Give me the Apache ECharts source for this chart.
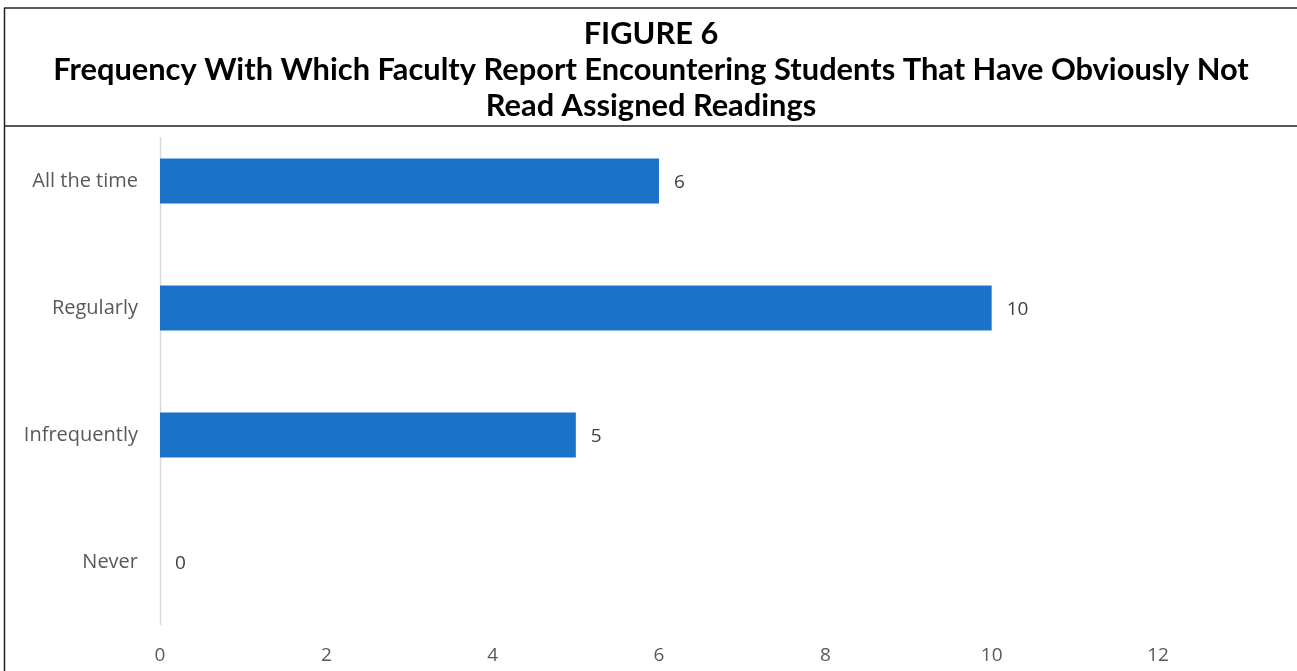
<!DOCTYPE html>
<html>
<head>
<meta charset="utf-8">
<script src="https://cdn.jsdelivr.net/npm/echarts@6/dist/echarts.min.js"></script>
<style>
  html, body { margin: 0; padding: 0; background: #fff; }
  #chart { width: 1297px; height: 671px; }
</style>
</head>
<body>
<div id="chart"></div>
<script>
// data
var categories = ['All the time', 'Regularly', 'Infrequently', 'Never'];
var counts = [6, 10, 5, 0];
var figureLabel = 'FIGURE 6';
var titleLines = [
  'Frequency With Which Faculty Report Encountering Students That Have Obviously Not',
  'Read Assigned Readings'
];

var chart = echarts.init(document.getElementById('chart'));

var titleFont = { fontFamily: 'Lato', fontWeight: 'bold', fontSize: 30.8, fill: '#000', textAlign: 'center', textVerticalAlign: 'middle' };

var option = {
  animation: false,
  grid: { left: 160, right: 139, top: 117.5, height: 508, containLabel: false },
  xAxis: {
    type: 'value',
    min: 0,
    max: 12,
    interval: 2,
    axisLine: { show: false },
    axisTick: { show: false },
    splitLine: { show: false },
    axisLabel: { color: '#595959', fontFamily: 'Open Sans', fontSize: 19, margin: 21 }
  },
  yAxis: {
    type: 'category',
    data: categories,
    inverse: true,
    axisLine: { show: false },
    axisTick: { show: false },
    axisLabel: { color: '#595959', fontFamily: 'Open Sans', fontSize: 20, margin: 22 }
  },
  series: [{
    type: 'bar',
    data: counts,
    barWidth: 45,
    itemStyle: { color: '#1a73c8' },
    label: {
      show: true,
      position: 'right',
      distance: 15,
      color: '#404040',
      fontFamily: 'Open Sans',
      fontSize: 19,
      offset: [0, 2]
    }
  }],
  graphic: [
    // outer frame and title separator
    { type: 'line', shape: { x1: 4.5, y1: 8, x2: 4.5, y2: 671 }, style: { stroke: '#222', lineWidth: 1.5 } },
    { type: 'line', shape: { x1: 4, y1: 8, x2: 1297, y2: 8 }, style: { stroke: '#222', lineWidth: 1.5 } },
    { type: 'line', shape: { x1: 4, y1: 126, x2: 1297, y2: 126 }, style: { stroke: '#222', lineWidth: 1.5 } },
    // vertical category axis line
    { type: 'line', shape: { x1: 160.5, y1: 137, x2: 160.5, y2: 625 }, style: { stroke: '#d9d9d9', lineWidth: 1.5 } },
    // title block
    { type: 'text', x: 651, y: 34, style: Object.assign({ text: figureLabel }, titleFont) },
    { type: 'text', x: 651, y: 70, style: Object.assign({ text: titleLines[0] }, titleFont) },
    { type: 'text', x: 651, y: 106, style: Object.assign({ text: titleLines[1] }, titleFont) }
  ]
};

chart.setOption(option);
</script>
</body>
</html>
